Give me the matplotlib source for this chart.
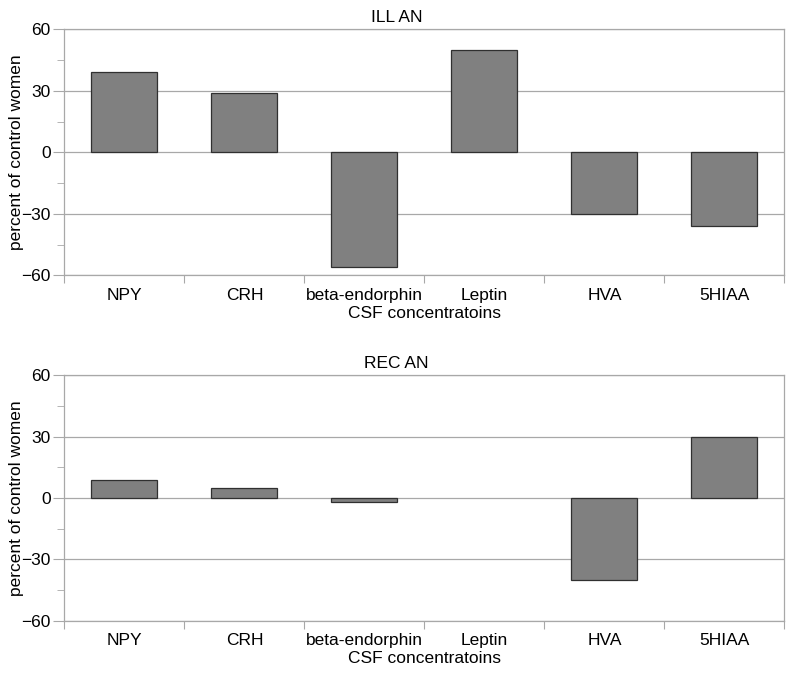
import numpy as np
import matplotlib
matplotlib.use('Agg')
import matplotlib.pyplot as plt
from matplotlib.ticker import FixedLocator, NullFormatter

# Dados
categorias = ['NPY', 'CRH', 'beta-endorphin', 'Leptin', 'HVA', '5HIAA']
valores_ill = [39, 29, -56, 50, -30, -36]
valores_rec = [9, 5, -2, 0, -40, 30]
paineis = [('ILL AN', valores_ill), ('REC AN', valores_rec)]

plt.rcParams['font.family'] = ['Liberation Sans', 'DejaVu Sans']
plt.rcParams['font.size'] = 12.5

fig = plt.figure(figsize=(8, 6.8), dpi=100)
posicoes = [[0.0805, 0.595, 0.9, 0.362], [0.0805, 0.0868, 0.9, 0.3617]]

cinza = '#a8a8a8'
x = np.arange(len(categorias))

for (titulo, valores), pos in zip(paineis, posicoes):
    ax = fig.add_axes(pos)
    barras = ax.bar(x, valores, width=0.55, color='#808080', edgecolor='#303030',
                    linewidth=0.9, zorder=3)
    # barras de altura zero não mostram contorno
    for b, v in zip(barras, valores):
        if v == 0:
            b.set_linewidth(0)

    ax.set_xlim(-0.5, len(categorias) - 0.5)
    ax.set_ylim(-60, 60)

    # Eixo Y
    ax.set_yticks([-60, -30, 0, 30, 60])
    ax.yaxis.set_minor_locator(FixedLocator([-45, -15, 15, 45]))
    ax.tick_params(axis='y', which='major', length=8, color=cinza, pad=2)
    ax.tick_params(axis='y', which='minor', length=5, color=cinza)
    ax.yaxis.grid(True, which='major', color=cinza, linewidth=0.9, zorder=0)
    ax.set_axisbelow(True)

    # Eixo X: marcas entre categorias, rótulos no centro
    ax.xaxis.set_major_locator(FixedLocator(np.arange(-0.5, len(categorias))))
    ax.xaxis.set_major_formatter(NullFormatter())
    ax.xaxis.set_minor_locator(FixedLocator(x))
    ax.set_xticklabels(categorias, minor=True)
    ax.tick_params(axis='x', which='major', length=6, color=cinza)
    ax.tick_params(axis='x', which='minor', length=0, pad=9)

    for s in ax.spines.values():
        s.set_color(cinza)
        s.set_linewidth(0.9)

    ax.set_title(titulo, x=0.461, pad=5, fontsize=12.5)
    ax.set_ylabel('percent of control women', labelpad=-2)
    ax.set_xlabel('CSF concentratoins', labelpad=2)

fig.savefig('out.png', dpi=100, facecolor='white')
